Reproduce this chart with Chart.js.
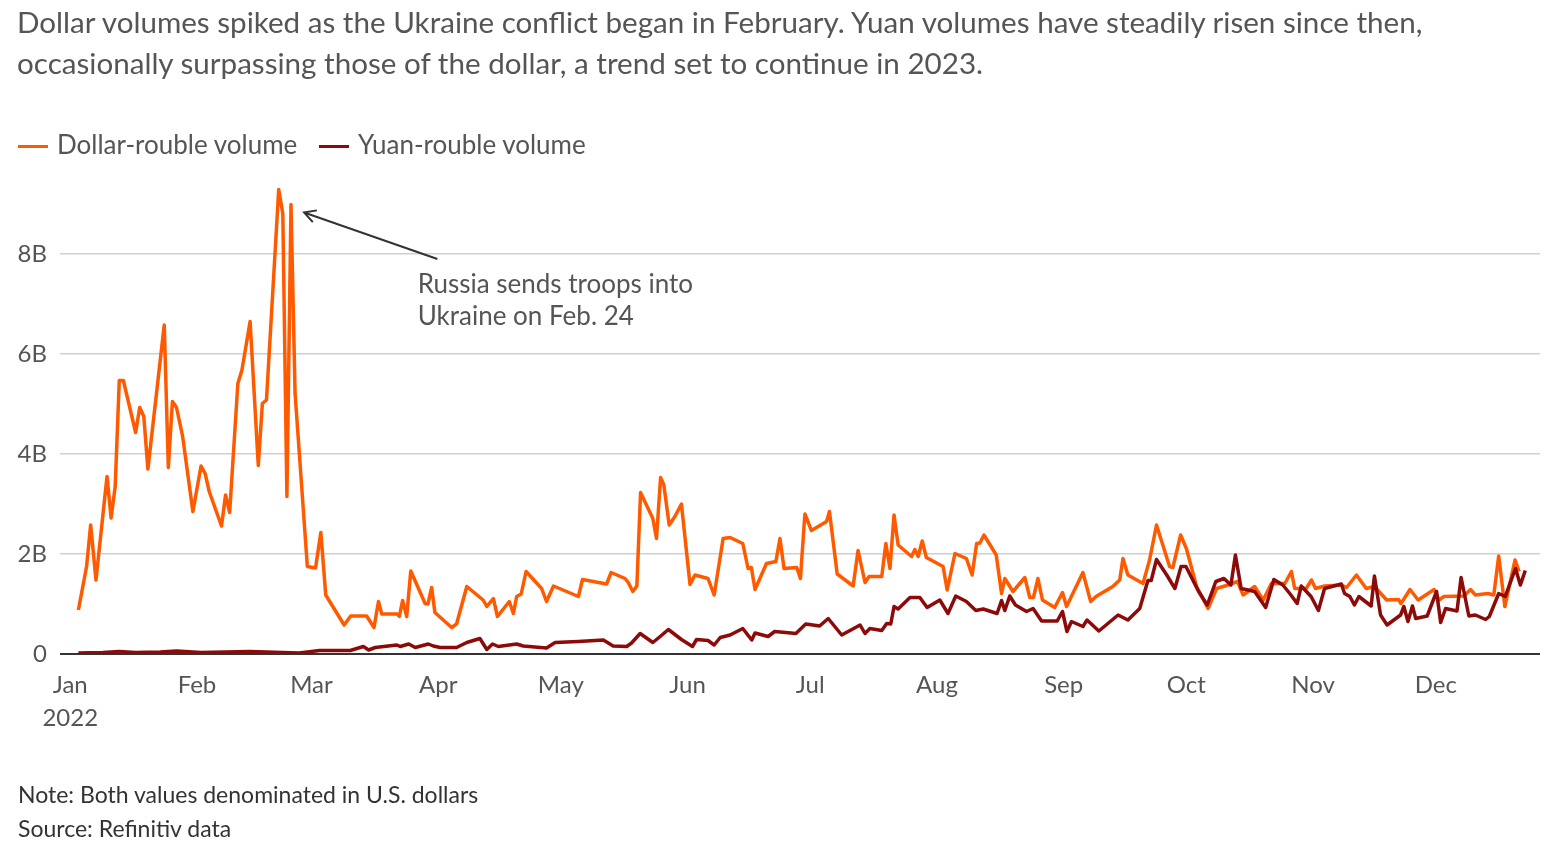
<html>
  <head>
    <style>
      body { margin: 0; background: #fff; font-family: Lato, 'Open Sans', sans-serif; color: #555; }
      #wrap { position: relative; width: 1550px; height: 851px; }
      #chartBox { position: absolute; left: 0; top: 0; width: 1550px; height: 851px; }
      #title { position: absolute; left: 17px; top: 1px; font-size: 29.6px; line-height: 41px; color: #555; }
      #legend { position: absolute; left: 18px; top: 127px; font-size: 26px; line-height: 34px; color: #555; }
      #legend span.sw { display: inline-block; width: 30px; height: 3px; vertical-align: middle; margin-right: 9px; position: relative; top: -1px; }
      #legend span.item { margin-right: 15px; }
      #notes { position: absolute; left: 18px; top: 777px; font-size: 23px; line-height: 34px; color: #333; }
    </style>
  </head>

  <body>
    <div id="wrap">
      <div id="chartBox"><canvas id="myChart"></canvas></div>
      <div id="title">Dollar volumes spiked as the Ukraine conflict began in February. Yuan volumes have steadily risen since then,<br>occasionally surpassing those of the dollar, a trend set to continue in 2023.</div>
      <div id="legend">
        <span class="item"><span class="sw" style="background:#ff5a00"></span>Dollar-rouble volume</span>
        <span class="item"><span class="sw" style="background:#8c0a0a"></span>Yuan-rouble volume</span>
      </div>
      <div id="notes">Note: Both values denominated in U.S. dollars<br>Source: Refinitiv data</div>
    </div>

    <script src="https://cdn.jsdelivr.net/npm/chart.js@4.4.1/dist/chart.umd.min.js"></script>
    <script>
      // days counted from Jan 1 2022, values in billions of USD
      const dollarDays = [2, 4, 5, 6.3, 9, 10, 11, 12, 13, 16, 17, 18, 19, 23, 24, 25, 26, 27.5, 30, 32, 33, 34, 37, 38, 39, 41, 42, 44, 46, 47, 48, 51, 52, 53, 54, 55, 58, 60, 61.3, 62.5, 67, 68.6, 72.5, 74.3, 75.4, 76.2, 80, 80.5, 81.3, 82.3, 83.3, 86.8, 87.5, 88.4, 89.2, 93.3, 94.5, 97, 101, 101.9, 103.5, 104.5, 107.4, 108.4, 109.2, 110.3, 111.5, 115.3, 116.5, 118.2, 124.3, 125.3, 131.2, 132.3, 135.7, 136.5, 137.6, 138.6, 139.5, 142.5, 143.4, 144.4, 145.2, 146.5, 147.9, 149.5, 151.6, 152.8, 156, 157.5, 159.7, 161.4, 164.5, 165.8, 166.6, 167.5, 170.3, 172.6, 173.6, 174.6, 177.7, 178.6, 179.7, 181.3, 185, 185.7, 187.6, 191.5, 192.7, 194.4, 195.4, 198.5, 199.5, 200.5, 201.5, 202.5, 205.8, 206.6, 207.4, 208.4, 209.4, 213.5, 214.5, 216.4, 219.2, 220.6, 221.7, 222.5, 223.5, 226.5, 227.8, 228.6, 230.6, 233.5, 234.7, 235.6, 236.7, 237.8, 240.8, 242.7, 243.7, 247.7, 249.6, 250.9, 255, 256.7, 257.5, 258.7, 262.4, 264, 265.7, 268.9, 269.7, 271.6, 273, 275.5, 278.3, 280.4, 283.2, 285.5, 286.9, 289.7, 291.8, 293.8, 297.1, 298.7, 299.5, 302.3, 303.6, 304.6, 306.8, 310.9, 312.2, 314.6, 317, 319, 322, 324.9, 325.5, 327.7, 329.7, 333.6, 334.8, 336, 340.9, 342.5, 343.7, 346.8, 348.2, 349.4, 350.9, 353.4, 354.4]
      const dollarValues = [0.88, 1.75, 2.58, 1.48, 3.55, 2.72, 3.35, 5.47, 5.47, 4.43, 4.93, 4.75, 3.7, 6.58, 3.73, 5.05, 4.93, 4.35, 2.85, 3.76, 3.61, 3.25, 2.56, 3.18, 2.83, 5.41, 5.68, 6.65, 3.77, 5.01, 5.08, 9.29, 8.81, 3.15, 8.99, 5.21, 1.75, 1.72, 2.43, 1.18, 0.58, 0.76, 0.76, 0.53, 1.05, 0.8, 0.8, 0.75, 1.07, 0.75, 1.66, 1.01, 1.0, 1.33, 0.83, 0.53, 0.6, 1.35, 1.08, 0.95, 1.11, 0.75, 1.05, 0.81, 1.15, 1.2, 1.65, 1.31, 1.05, 1.36, 1.15, 1.49, 1.4, 1.63, 1.51, 1.43, 1.25, 1.36, 3.23, 2.71, 2.31, 3.53, 3.38, 2.58, 2.75, 3.0, 1.39, 1.58, 1.51, 1.18, 2.31, 2.33, 2.21, 1.71, 1.73, 1.29, 1.81, 1.85, 2.31, 1.71, 1.73, 1.51, 2.8, 2.47, 2.65, 2.85, 1.6, 1.36, 2.07, 1.43, 1.55, 1.55, 2.21, 1.71, 2.78, 2.18, 1.95, 2.09, 1.95, 2.26, 1.93, 1.75, 1.28, 2.01, 1.91, 1.58, 2.21, 2.22, 2.38, 1.98, 1.21, 1.51, 1.25, 1.53, 1.13, 1.13, 1.51, 1.08, 0.93, 1.23, 0.95, 1.63, 1.05, 1.15, 1.35, 1.48, 1.91, 1.58, 1.41, 1.88, 2.58, 1.75, 1.73, 2.38, 2.11, 1.35, 0.91, 1.31, 1.38, 1.45, 1.18, 1.35, 1.08, 1.41, 1.41, 1.65, 1.31, 1.31, 1.48, 1.31, 1.36, 1.38, 1.33, 1.58, 1.31, 1.35, 1.08, 1.09, 1.01, 1.29, 1.08, 1.29, 1.08, 1.15, 1.16, 1.29, 1.18, 1.21, 1.18, 1.96, 0.95, 1.88, 1.65]

      const yuanDays = [2, 8, 12, 16, 22, 26, 32, 38, 44, 48, 52, 56, 61, 68.5, 71.7, 73, 74.6, 79.9, 80.7, 82.8, 84.4, 87.6, 88.8, 90.5, 94.5, 97, 100.2, 101.9, 103.3, 104.7, 109.2, 110.8, 116.5, 118.6, 124.3, 130.4, 132.8, 136.1, 137.3, 139.4, 142.5, 144.3, 146.3, 149.5, 152.2, 153.2, 156, 157.5, 159, 161.4, 164.5, 166.7, 167.5, 170.7, 172.3, 175, 177.5, 179.9, 183.3, 185.4, 188.7, 193.2, 194.4, 195.6, 198.5, 199.7, 200.7, 201.5, 202.5, 205.4, 207.8, 209.6, 212.7, 214.7, 216.6, 219.2, 221.5, 223.3, 226.7, 227.8, 228.6, 229.8, 231.2, 233.9, 235.5, 237.6, 241.4, 242.7, 243.8, 244.9, 247.7, 248.7, 251.6, 256.3, 258.7, 261.6, 263.6, 264.4, 265.7, 268.2, 270.2, 271.7, 272.9, 276, 278.1, 280.2, 282.2, 283.9, 285, 286.4, 289.7, 292.4, 294.4, 296.6, 298.3, 300.1, 301.1, 303.5, 305.3, 306.8, 310.9, 311.7, 313, 314.1, 315.2, 318.2, 319, 320.5, 322.1, 325.4, 326.2, 327.2, 328.3, 329.1, 331.9, 334.2, 335.2, 336.4, 339.2, 340.2, 342.1, 343.7, 346.2, 347.1, 349.4, 351, 353.5, 354.7, 355.9]
      const yuanValues = [0.02, 0.03, 0.05, 0.03, 0.04, 0.06, 0.03, 0.04, 0.05, 0.04, 0.03, 0.02, 0.07, 0.07, 0.15, 0.08, 0.13, 0.18, 0.15, 0.2, 0.13, 0.2, 0.16, 0.13, 0.13, 0.23, 0.31, 0.09, 0.2, 0.15, 0.2, 0.16, 0.12, 0.23, 0.25, 0.28, 0.16, 0.15, 0.22, 0.41, 0.23, 0.35, 0.49, 0.29, 0.15, 0.29, 0.27, 0.18, 0.33, 0.38, 0.51, 0.28, 0.42, 0.35, 0.45, 0.43, 0.41, 0.6, 0.56, 0.71, 0.38, 0.58, 0.41, 0.51, 0.47, 0.61, 0.6, 0.95, 0.9, 1.13, 1.13, 0.93, 1.08, 0.81, 1.16, 1.05, 0.87, 0.9, 0.81, 1.07, 0.87, 1.16, 0.98, 0.85, 0.91, 0.66, 0.66, 0.85, 0.45, 0.65, 0.55, 0.68, 0.46, 0.78, 0.68, 0.91, 1.47, 1.47, 1.89, 1.58, 1.31, 1.75, 1.75, 1.25, 0.98, 1.45, 1.51, 1.38, 1.98, 1.31, 1.25, 0.93, 1.49, 1.38, 1.21, 1.01, 1.36, 1.15, 0.87, 1.31, 1.4, 1.21, 1.15, 0.98, 1.15, 0.96, 1.56, 0.78, 0.58, 0.78, 0.95, 0.65, 0.96, 0.71, 0.76, 1.25, 0.63, 0.91, 0.86, 1.53, 0.76, 0.78, 0.69, 0.75, 1.21, 1.15, 1.71, 1.38, 1.67]

      const monthStarts = [0, 31, 59, 90, 120, 151, 181, 212, 243, 273, 304, 334]
      const monthLabels = ['Jan', 'Feb', 'Mar', 'Apr', 'May', 'Jun', 'Jul', 'Aug', 'Sep', 'Oct', 'Nov', 'Dec']
      const yTicks = [0, 2, 4, 6, 8]

      // note pointing at the Feb. 24 spike (in data units)
      const noteLines = ['Russia sends troops into', 'Ukraine on Feb. 24']
      const arrowFrom = { x: 89.8, y: 7.9 }
      const arrowTo = { x: 57.2, y: 8.83 }
      const noteAt = { x: 85, y: 7.38 }

      const toPoints = (days, vals) => days.map((d, i) => ({ x: d, y: vals[i] }))

      const notePlugin = {
        id: 'note',
        afterDatasetsDraw(chart) {
          const { ctx, scales } = chart
          const x1 = scales.x.getPixelForValue(arrowFrom.x), y1 = scales.y.getPixelForValue(arrowFrom.y)
          const x2 = scales.x.getPixelForValue(arrowTo.x), y2 = scales.y.getPixelForValue(arrowTo.y)
          const a = Math.atan2(y1 - y2, x1 - x2)
          ctx.save()
          ctx.strokeStyle = '#333'
          ctx.lineWidth = 2
          ctx.beginPath()
          ctx.moveTo(x1, y1)
          ctx.lineTo(x2, y2)
          ctx.moveTo(x2 + 13 * Math.cos(a - 0.5), y2 + 13 * Math.sin(a - 0.5))
          ctx.lineTo(x2, y2)
          ctx.lineTo(x2 + 13 * Math.cos(a + 0.5), y2 + 13 * Math.sin(a + 0.5))
          ctx.stroke()
          ctx.fillStyle = '#555'
          ctx.font = '26px Lato'
          ctx.textBaseline = 'middle'
          const tx = scales.x.getPixelForValue(noteAt.x), ty = scales.y.getPixelForValue(noteAt.y)
          noteLines.forEach((t, i) => ctx.fillText(t, tx, ty + i * 32))
          ctx.restore()
        },
      }

      let chart = new Chart(document.getElementById('myChart'), {
        type: 'line',
        data: {
          datasets: [
            {
              label: 'Dollar-rouble volume',
              data: toPoints(dollarDays, dollarValues),
              borderColor: '#ff5a00',
              borderWidth: 3.5,
              order: 1,
            },
            {
              label: 'Yuan-rouble volume',
              data: toPoints(yuanDays, yuanValues),
              borderColor: '#8c0a0a',
              borderWidth: 3.5,
              order: 0,
            },
          ],
        },
        options: {
          responsive: true,
          maintainAspectRatio: false,
          animation: false,
          layout: { padding: { top: 179, right: 10, left: 0, bottom: 0 } },
          elements: { point: { radius: 0 }, line: { tension: 0, borderJoinStyle: 'round' } },
          plugins: { legend: { display: false }, tooltip: { enabled: false } },
          scales: {
            x: {
              type: 'linear',
              min: -2.5,
              max: 359.5,
              afterFit: (s) => { s.height = 197 },
              afterBuildTicks: (s) => { s.ticks = monthStarts.map((v) => ({ value: v })) },
              grid: { display: false },
              border: { display: false },
              ticks: {
                padding: 6,
                color: '#555',
                maxRotation: 0,
                autoSkip: false,
                font: { family: 'Lato', size: 24, lineHeight: 1.4 },
                callback: (v, i) => (i === 0 ? [monthLabels[0], '2022'] : monthLabels[i]),
              },
            },
            y: {
              min: 0,
              max: 9.5,
              afterFit: (s) => { s.width = 60 },
              afterBuildTicks: (s) => { s.ticks = yTicks.map((v) => ({ value: v })) },
              border: { display: false },
              grid: {
                drawTicks: false,
                color: (c) => (c.tick.value === 0 ? '#333' : '#cfcfcf'),
                lineWidth: (c) => (c.tick.value === 0 ? 2 : 1.5),
              },
              ticks: {
                padding: 13,
                color: '#555',
                font: { family: 'Lato', size: 24 },
                callback: (v) => (v === 0 ? '0' : v + 'B'),
              },
            },
          },
        },
        plugins: [notePlugin],
      })
    </script>
  </body>
</html>
